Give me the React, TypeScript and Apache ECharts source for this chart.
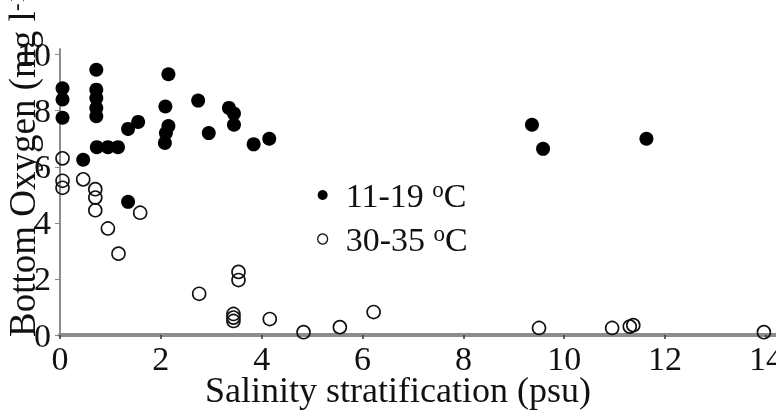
import React, { useEffect, useRef } from "react";
import * as echarts from "echarts";

const xTicks = [0, 2, 4, 6, 8, 10, 12, 14];
const yTicks = [0, 2, 4, 6, 8, 10];
const xTitle = "Salinity stratification (psu)";
const yTitleMain = "Bottom Oxygen (mg l";
const yTitleSup = "-1";

const coolName = "11-19 oC";
const warmName = "30-35 oC";

const coolX = [0.05, 0.05, 0.05, 0.72, 0.72, 0.72, 0.72, 0.72, 0.73, 0.95, 1.15, 0.46, 1.35, 1.55, 2.15, 2.09, 2.15, 2.1, 2.08, 2.74, 2.95, 3.35, 3.45, 3.45, 3.84, 4.15, 9.36, 9.58, 11.63, 1.35];
const coolY = [8.8, 8.4, 7.75, 9.46, 8.75, 8.45, 8.1, 7.8, 6.7, 6.7, 6.7, 6.25, 7.35, 7.6, 9.3, 8.15, 7.45, 7.2, 6.85, 8.36, 7.2, 8.1, 7.9, 7.5, 6.8, 7.0, 7.5, 6.64, 7.0, 4.75];

const warmX = [0.05, 0.05, 0.05, 0.46, 0.7, 0.7, 0.7, 1.59, 0.95, 1.16, 2.76, 3.54, 3.54, 3.44, 3.44, 3.44, 4.16, 4.83, 5.55, 6.22, 9.5, 10.95, 11.3, 11.37, 13.96];
const warmY = [6.3, 5.5, 5.25, 5.55, 5.2, 4.9, 4.45, 4.36, 3.8, 2.9, 1.47, 2.25, 1.96, 0.75, 0.62, 0.5, 0.57, 0.1, 0.28, 0.82, 0.25, 0.25, 0.3, 0.35, 0.1];

const FONT = "Liberation Serif";

export default function App() {
  const ref = useRef<HTMLDivElement>(null);
  useEffect(() => {
    const chart = echarts.init(ref.current!, null, { renderer: "svg" });
    chart.setOption({
      animation: false,
      grid: { left: 60, right: 0, top: 49, bottom: 84, outerBoundsMode: "none" },
      xAxis: {
        type: "value",
        min: 0,
        max: 14.2,
        splitLine: { show: false },
        axisLine: { show: true, lineStyle: { color: "#8c8c8c", width: 4 } },
        axisTick: { show: true, length: 4, customValues: xTicks, lineStyle: { color: "#333", width: 1.5 } },
        axisLabel: { customValues: xTicks, color: "#111", fontFamily: FONT, fontSize: 34, margin: 6 },
      },
      yAxis: {
        type: "value",
        min: 0,
        max: 10.2,
        splitLine: { show: false },
        axisLine: { show: true, lineStyle: { color: "#8c8c8c", width: 2 } },
        axisTick: { show: true, length: 5, customValues: yTicks, lineStyle: { color: "#888", width: 1 } },
        axisLabel: { customValues: yTicks, color: "#111", fontFamily: FONT, fontSize: 34, margin: 9 },
      },
      legend: {
        orient: "vertical",
        left: 312,
        top: 173,
        itemGap: 10,
        itemWidth: 36,
        itemHeight: 10,
        data: [
          { name: coolName, icon: "circle", itemStyle: { color: "#000", borderWidth: 0 } },
          { name: warmName, icon: "circle", itemStyle: { color: "rgba(255,255,255,0)", borderColor: "#111", borderWidth: 1.3 } },
        ],
        formatter: (name: string) => `{t|${name.replace(" oC", "")} }{s|o}{t|C}`,
        textStyle: {
          color: "#111",
          fontFamily: FONT,
          fontSize: 34,
          rich: {
            t: { fontFamily: FONT, fontSize: 34, lineHeight: 34, color: "#111" },
            s: { fontFamily: FONT, fontSize: 23, lineHeight: 22, color: "#111", verticalAlign: "top" },
          },
        },
      },
      series: [
        {
          type: "scatter",
          name: warmName,
          data: warmX.map((x, i) => [x, warmY[i]]),
          symbolSize: 13,
          itemStyle: { color: "rgba(255,255,255,0)", borderColor: "#111", borderWidth: 1.6, opacity: 1 },
        },
        {
          type: "scatter",
          name: coolName,
          data: coolX.map((x, i) => [x, coolY[i]]),
          symbolSize: 14,
          itemStyle: { color: "#000", opacity: 1 },
        },
      ],
      graphic: [
        {
          type: "text",
          x: 22,
          y: 337,
          rotation: Math.PI / 2,
          style: {
            text: `{a|${yTitleMain}}{b|${yTitleSup}}{a|)}`,
            fill: "#111",
            textAlign: "left",
            textVerticalAlign: "middle",
            rich: {
              a: { font: '37px "Liberation Serif"', fill: "#111", lineHeight: 37 },
              b: { font: '24px "Liberation Serif"', fill: "#111", lineHeight: 24, verticalAlign: "top" },
            },
          },
        },
        {
          type: "text",
          x: 205,
          y: 372,
          style: { text: xTitle, font: '36px "Liberation Serif"', fill: "#111" },
        },
      ],
    });
    return () => chart.dispose();
  }, []);
  return <div ref={ref} style={{ position: "fixed", left: 0, top: 0, width: 776, height: 419 }} />;
}
